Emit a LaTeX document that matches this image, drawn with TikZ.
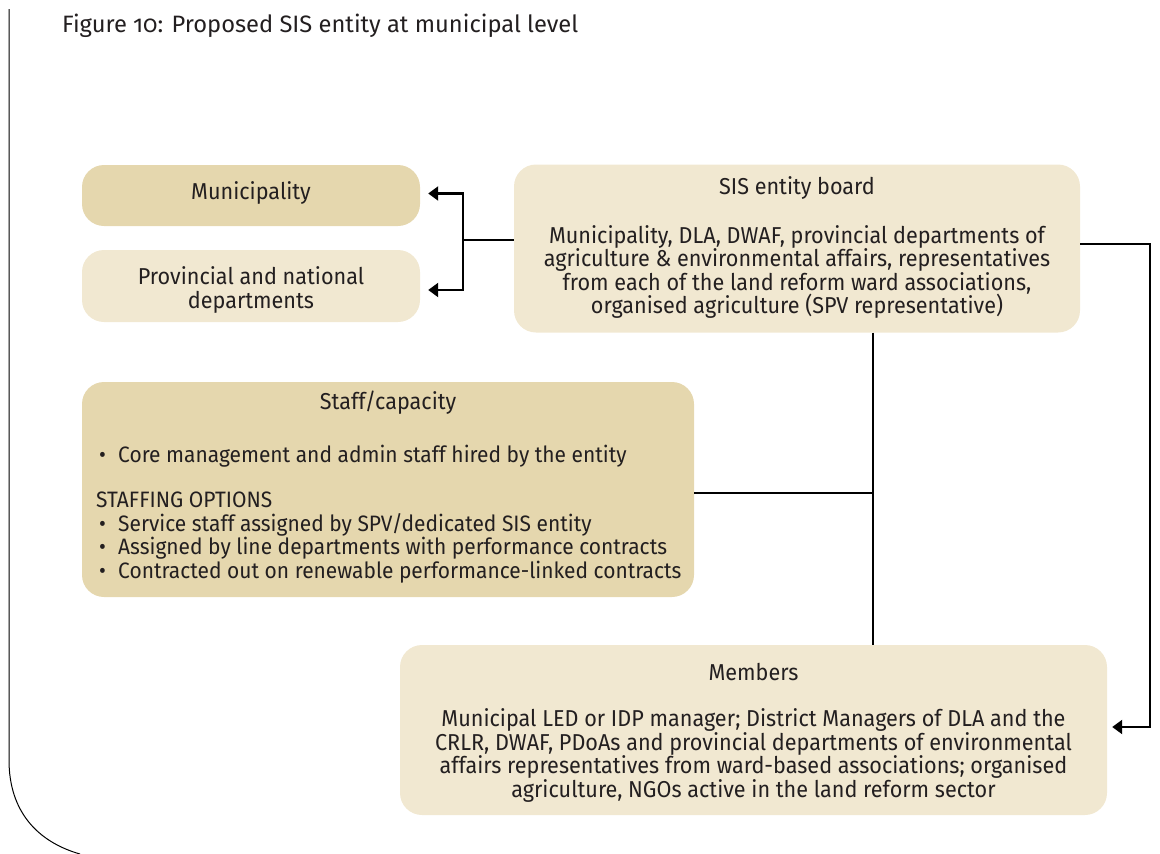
\documentclass[tikz,border=0pt]{standalone}
\usepackage{fontspec}
\setmainfont{Fira Sans}[Numbers=OldStyle]
\newfontfamily\narrowfont{Fira Sans}[FakeStretch=0.94]
\usetikzlibrary{arrows.meta,positioning}

\definecolor{tandark}{HTML}{E5D7AE}
\definecolor{tanlight}{HTML}{F1E8D1}
\definecolor{inkgrey}{HTML}{231F20}

\tikzset{
  darkbox/.style={fill=tandark, rounded corners=22pt, inner sep=0pt},
  lightbox/.style={fill=tanlight, rounded corners=22pt, inner sep=0pt},
  boxtext/.style={font=\narrowfont\fontsize{23}{23.5}\selectfont, text=inkgrey, align=center, inner sep=0pt},
  link/.style={line width=2.2pt},
  tip/.style={-{Triangle[length=10pt,width=14pt]}}
}
\newcommand{\itembullet}{\makebox[22pt][l]{\hspace{3pt}\textbullet}}

\begin{document}
\begin{tikzpicture}[x=1pt,y=-1pt]
\useasboundingbox (0,0) rectangle (1160,854);

% frame and caption
\draw[line width=1pt] (9,9) -- (9,760) .. controls (9,812) and (38,842) .. (80,854);
\node[anchor=base west, inner sep=0pt, text=inkgrey, font=\fontsize{23.7}{28}\selectfont] (caption) at (62,32) {Figure 10: Proposed SIS entity at municipal level};

% the boxes
\node[darkbox, minimum width=338, minimum height=61] (muni) at (251,195.5) {};
\node[boxtext] (munitext) at (251,193) {Municipality};
\node[lightbox, minimum width=338, minimum height=72] (prov) at (251,286) {};
\node[boxtext] (provtext) at (251,290) {Provincial and national\\departments};

\node[lightbox, minimum width=566, minimum height=168] (board) at (797,248.5) {};
\node[boxtext] (boardtitle) at (797,188) {SIS entity board};
\node[boxtext] (boardtext) at (797,272) {Municipality, DLA, DWAF, provincial departments of\\agriculture \& environmental affairs, representatives\\from each of the land reform ward associations,\\organised agriculture (SPV representative)};

\node[darkbox, minimum width=612, minimum height=215] (staff) at (388,489.5) {};
\node[boxtext] (stafftitle) at (388,403) {Staff/capacity};
\node[boxtext, align=left, anchor=base west, font=\narrowfont\fontsize{22.3}{23.5}\selectfont] (stafftext) at (96,578) {\itembullet Core management and admin staff hired by the entity\\[22pt]
STAFFING OPTIONS\\
\itembullet Service staff assigned by SPV/dedicated SIS entity\\
\itembullet Assigned by line departments with performance contracts\\
\itembullet Contracted out on renewable performance-linked contracts};

\node[lightbox, minimum width=707, minimum height=170] (members) at (753.5,730) {};
\node[boxtext] (memberstitle) at (753.5,672) {Members};
\node[boxtext] (memberstext) at (753.5,755.5) {Municipal LED or IDP manager; District Managers of DLA and the\\CRLR, DWAF, PDoAs and provincial departments of environmental\\affairs representatives from ward-based associations; organised\\agriculture, NGOs active in the land reform sector};

% the connectors
\coordinate (split) at (463,240);
\coordinate (bend) at (1150,244);
\coordinate (trunk) at (873,493);
\draw[link] (board.west |- split) -- (split);
\draw[link,tip] (split) |- ([xshift=8pt,yshift=2pt]muni.east);
\draw[link,tip] (split) |- ([xshift=8pt,yshift=-4pt]prov.east);
\draw[link,tip] ([yshift=4.5pt]board.east) -| (bend) |- ([xshift=5pt,yshift=3pt]members.east);
\draw[line width=1.6pt] (board.south -| trunk) -- (members.north -| trunk);
\draw[line width=1.6pt] (staff.east |- trunk) -- (trunk);

\end{tikzpicture}
\end{document}
